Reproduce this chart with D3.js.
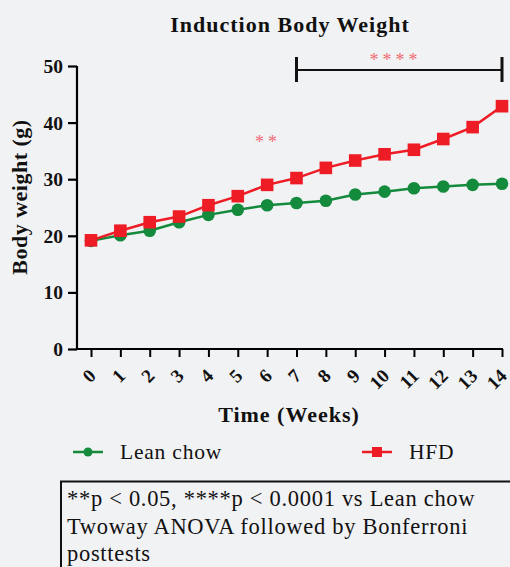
<!DOCTYPE html>
<html>
<head>
<meta charset="utf-8">
<script src="https://cdn.jsdelivr.net/npm/d3@7"></script>
<style>
  html, body { margin: 0; padding: 0; background: #f1f2f4; }
  svg { display: block; }
  svg text { font-family: 'Liberation Serif', 'Times New Roman', serif; }
</style>
</head>
<body>
<svg id="chart" width="510" height="567"></svg>
<script>
const weeks = [0,1,2,3,4,5,6,7,8,9,10,11,12,13,14];
const leanChow = [19.1,20.1,20.9,22.4,23.7,24.6,25.4,25.8,26.2,27.3,27.8,28.4,28.7,29.0,29.2];
const hfd = [19.2,20.9,22.4,23.4,25.4,27.0,29.0,30.2,32.0,33.3,34.4,35.2,37.1,39.2,42.9];
const yTicks = [0,10,20,30,40,50];
const seriesNames = ["Lean chow", "HFD"];
const noteLines = ["**p < 0.05, ****p < 0.0001 vs Lean chow", "Twoway ANOVA followed by Bonferroni", "posttests"];

const svg = d3.select("#chart");
const serif = "Liberation Serif, Times New Roman, serif";
const green = "#138a3c", red = "#ee1c25";

const x = d3.scaleLinear().domain([0, 14]).range([91, 502]);
const y = d3.scaleLinear().domain([0, 50]).range([349, 66]);

function font(sel, size, bold, spacing) {
  return sel.style("font-family", serif).style("font-size", size + "px")
    .style("font-weight", bold ? "bold" : "normal")
    .style("letter-spacing", (spacing || 0) + "px");
}

// title
font(svg.append("text"), 22, true, 1).attr("x", 290).attr("y", 32).attr("text-anchor", "middle")
  .attr("fill", "#111").text("Induction Body Weight");

// y axis
const yAxis = svg.append("g").attr("transform", "translate(77,0)")
  .call(d3.axisLeft(y).tickValues(yTicks).tickSize(9).tickPadding(5));
yAxis.attr("font-family", null).attr("font-size", null);
yAxis.select(".domain").attr("stroke", "#000").attr("stroke-width", 2.2).attr("d", "M0,66V349");
yAxis.selectAll(".tick line").attr("stroke", "#000").attr("stroke-width", 2.2);
font(yAxis.selectAll(".tick text"), 19.5, true).attr("fill", "#111").attr("dy", "0.33em");

// x axis
const xAxis = svg.append("g").attr("transform", "translate(0,349)")
  .call(d3.axisBottom(x).tickValues(weeks).tickSize(8).tickFormat(d3.format("d")));
xAxis.attr("font-family", null).attr("font-size", null);
xAxis.select(".domain").attr("stroke", "#000").attr("stroke-width", 2.2).attr("d", "M76,0H503");
xAxis.selectAll(".tick line").attr("stroke", "#000").attr("stroke-width", 2);
font(xAxis.selectAll(".tick text"), 19, true).attr("fill", "#111")
  .attr("y", 0).attr("dy", 0)
  .attr("text-anchor", "end")
  .attr("transform", "translate(5.5,28) rotate(-45)");

// axis labels
font(svg.append("text"), 22, true, 0.5).attr("transform", "translate(27,197) rotate(-90)").attr("text-anchor", "middle")
  .attr("fill", "#111").text("Body weight (g)");
font(svg.append("text"), 22, true, 1).attr("x", 289).attr("y", 422).attr("text-anchor", "middle")
  .attr("fill", "#111").text("Time (Weeks)");

// significance bracket
const bracket = svg.append("g").attr("stroke", "#111");
bracket.append("line").attr("x1", x(7)).attr("x2", x(14)).attr("y1", 70).attr("y2", 70).attr("stroke-width", 2);
bracket.append("line").attr("x1", x(7)).attr("x2", x(7)).attr("y1", 57).attr("y2", 82).attr("stroke-width", 3);
bracket.append("line").attr("x1", x(14)).attr("x2", x(14)).attr("y1", 57).attr("y2", 82).attr("stroke-width", 3);
font(svg.append("text"), 18, false, 4).attr("x", 395.5).attr("y", 66).attr("text-anchor", "middle")
  .attr("fill", "#f06a72").text("****");
font(svg.append("text"), 18, false, 4).attr("x", 268).attr("y", 148).attr("text-anchor", "middle")
  .attr("fill", "#f06a72").text("**");

// lines
const line = d3.line().x((d, i) => x(weeks[i])).y(d => y(d));
svg.append("path").datum(leanChow).attr("d", line).attr("fill", "none")
  .attr("stroke", green).attr("stroke-width", 2.5);
svg.selectAll(".lean").data(leanChow).enter().append("circle")
  .attr("cx", (d, i) => x(weeks[i])).attr("cy", d => y(d)).attr("r", 6.3).attr("fill", green);
svg.append("path").datum(hfd).attr("d", line).attr("fill", "none")
  .attr("stroke", red).attr("stroke-width", 2.5);
svg.selectAll(".hfd").data(hfd).enter().append("rect")
  .attr("x", (d, i) => x(weeks[i]) - 6.3).attr("y", d => y(d) - 6.3)
  .attr("width", 12.6).attr("height", 12.6).attr("fill", red);

// legend
const lg = svg.append("g");
lg.append("line").attr("x1", 73).attr("x2", 103).attr("y1", 452).attr("y2", 452).attr("stroke", green).attr("stroke-width", 2.5);
lg.append("circle").attr("cx", 88).attr("cy", 452).attr("r", 4.5).attr("fill", green);
font(lg.append("text"), 21.5, false, 0.8).attr("x", 120).attr("y", 459).attr("fill", "#111").text(seriesNames[0]);
lg.append("line").attr("x1", 362).attr("x2", 392).attr("y1", 452).attr("y2", 452).attr("stroke", red).attr("stroke-width", 2.5);
lg.append("rect").attr("x", 372).attr("y", 447).attr("width", 10).attr("height", 10).attr("fill", red);
font(lg.append("text"), 21.5, false, 0.8).attr("x", 409).attr("y", 459).attr("fill", "#111").text(seriesNames[1]);

// note box
svg.append("rect").attr("x", 61).attr("y", 481.5).attr("width", 460).attr("height", 100)
  .attr("fill", "none").attr("stroke", "#111").attr("stroke-width", 2);
font(svg.selectAll(".note").data(noteLines).enter().append("text"), 22.5, false, 0.7)
  .attr("x", 67).attr("y", (d, i) => 506 + i * 27.5)
  .attr("fill", "#111").text(d => d);
</script>
</body>
</html>
